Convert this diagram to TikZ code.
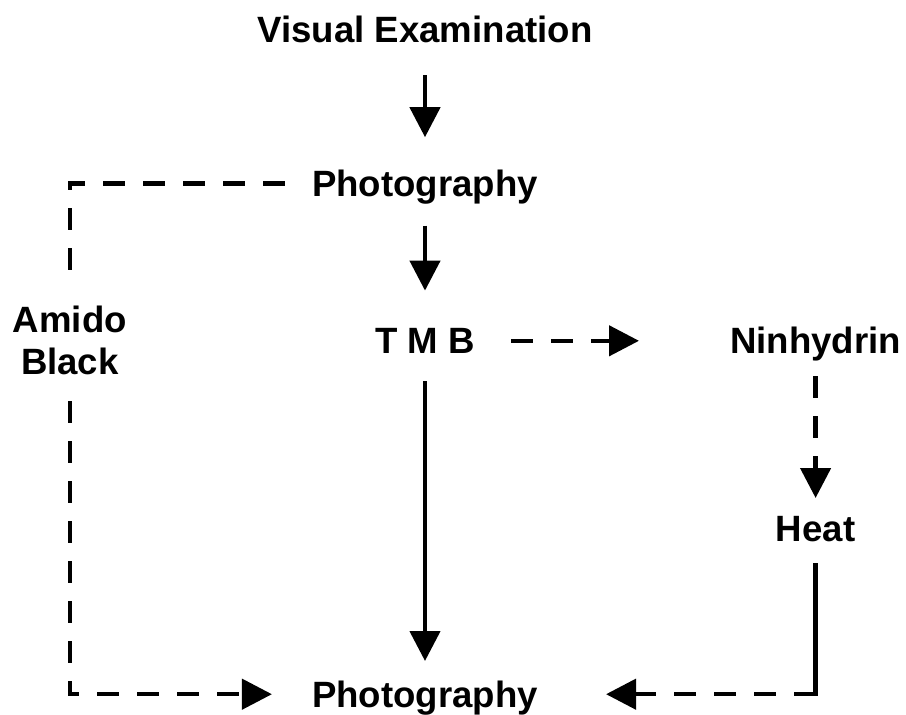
\documentclass[tikz,border=0pt]{standalone}
\usepackage{fontspec}
\setmainfont{Liberation Sans}
\usetikzlibrary{arrows.meta, positioning}
\tikzset{
    stage/.style = {font=\fontsize{36.6}{42}\selectfont\bfseries, inner sep=0pt, text height=26pt, text depth=0pt},
    note/.style = {font=\fontsize{36.6}{42}\selectfont\bfseries, inner sep=0pt, align=center},
    flow/.style = {line width=4.5pt, -{Triangle[length=30pt, width=30pt]}},
    optional/.style = {line width=4.5pt, dash pattern=on 22pt off 18pt}
}

\begin{document}
\begin{tikzpicture}[x=1pt, y=-1pt]
    \useasboundingbox (0,0) rectangle (906,715);
    % Nodos
    \node [stage] (visual) at (425,29) {Visual Examination};
    \node [stage, below=128pt of visual] (photo1) {Photography};
    \node [stage, below=131pt of photo1] (tmb) {T M B};
    \node [stage, below=327pt of tmb] (photo2) {Photography};
    \node [stage, right=255pt of tmb] (ninhydrin) {Ninhydrin};
    \node [stage, below=161pt of ninhydrin] (heat) {Heat};
    \node [note, left=248pt of tmb] (amido) {Amido\\Black};
    \coordinate (topleft) at (amido |- photo1);
    \coordinate (botleft) at (amido |- photo2);
    \coordinate (botright) at (heat |- photo2);
    % Flechas
    \draw [flow, shorten <=33pt, shorten >=33pt] (visual) -- (photo1);
    \draw [flow, shorten <=29pt, shorten >=37pt] (photo1) -- (tmb);
    \draw [flow, shorten <=27pt, shorten >=20pt] (tmb) -- (photo2);
    \draw [flow, optional, shorten <=36pt, shorten >=91pt] (tmb) -- (ninhydrin);
    \draw [flow, optional, shorten <=22pt, shorten >=17pt] (ninhydrin) -- (heat);
    \draw [line width=4.5pt, shorten <=22pt, shorten >=-2.25pt] (heat) -- (botright);
    \draw [flow, optional, shorten >=68pt] (botright) -- (photo2);
    \draw [optional, shorten <=27pt, shorten >=30pt] (photo1) -- (topleft) -- (amido);
    \draw [flow, optional, shorten <=26pt, shorten >=40pt] (amido) -- (botleft) -- (photo2);
\end{tikzpicture}
\end{document}
